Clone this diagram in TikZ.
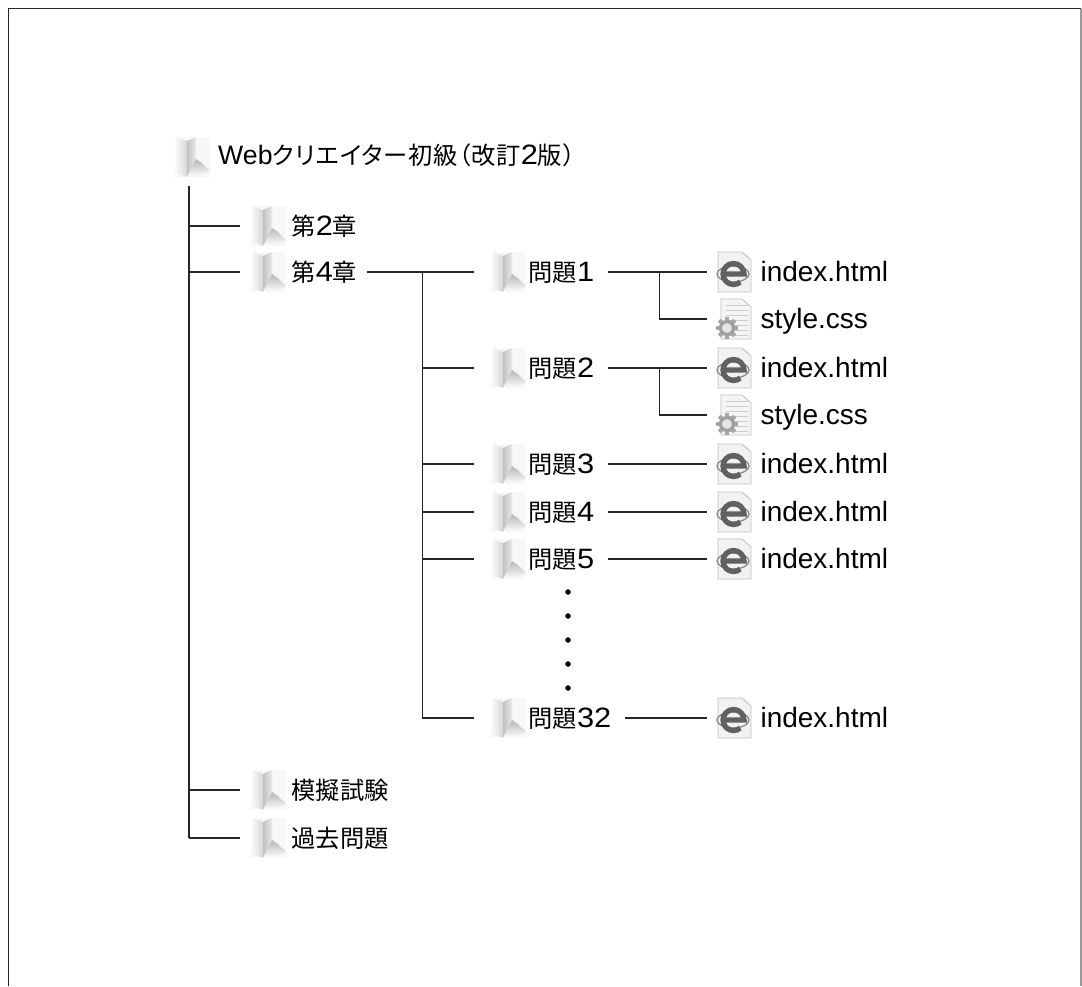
\documentclass[tikz,border=0pt]{standalone}
\usepackage{fontspec}
\setmainfont{Liberation Sans}
\newfontfamily\cjkfont{Noto Sans CJK JP}
\newfontfamily\paltfont[RawFeature=+palt,LetterSpace=3.5]{Noto Sans CJK JP}
\newfontfamily\widefont[FakeStretch=1.1]{Liberation Sans}
\newcommand{\widedigit}[1]{{\widefont\fontsize{21pt}{24pt}\selectfont #1}}
\usetikzlibrary{positioning, calc}

\begin{document}
\begin{tikzpicture}[
    x=0.75pt, y=-0.75pt,
    on grid,
    folder/.style={
      minimum width=27.75pt, minimum height=30pt, inner sep=0pt,
      path picture={
        \fill [black!3] (-18,-20) rectangle (18,20);
        \shade [left color=white, right color=black!16] (-18,-20) -- (-5,-16) -- (-5,20) -- (-12,17) -- (-18,11) -- cycle;
        \shade [left color=black!24, right color=black!8] (-5,-16) -- (4,-20) -- (4,7) -- (-5,20) -- cycle;
        \shade [top color=black!28, bottom color=white] (4,2) -- (10,6) -- (18,14) -- (10,17) -- (-5,20) -- cycle;
      }
    },
    htmlfile/.style={
      minimum width=27pt, minimum height=31.5pt, inner sep=0pt,
      path picture={
        \filldraw [fill=black!5, draw=black!25, line width=0.6pt] (-16,-20) -- (8,-20) -- (17,-12) -- (17,20) -- (-16,20) -- cycle;
        \draw [black!45, line width=1pt, rotate around={-32:(-1,2)}] (-1,2) ellipse (16 and 8);
        \draw [black!62, line width=4pt] (-10,2) -- (10,2) arc (0:-310:10.5 and 10.5);
      }
    },
    cssfile/.style={
      minimum width=27pt, minimum height=31.5pt, inner sep=0pt,
      path picture={
        \filldraw [fill=black!4, draw=black!25, line width=0.6pt] (-13,-20) -- (8,-20) -- (17,-12) -- (17,20) -- (-13,20) -- cycle;
        \foreach \r in {-14,-9,...,16}
          \draw [black!20, line width=0.5pt] (-8,\r) -- (14,\r);
        \foreach \a in {0,45,...,315}
          \draw [black!35, line width=3pt] (-7,9) ++(\a:6) -- ++(\a:5);
        \filldraw [fill=black!10, draw=black!38, line width=2.4pt] (-7,9) circle (6.5);
      }
    },
    nametag/.style={
      anchor=west, inner xsep=3.4pt, inner ysep=0pt, text height=17pt, text depth=3.5pt,
      font=\cjkfont\fontsize{18.2pt}{22pt}\selectfont
    },
    filetag/.style={
      anchor=west, inner xsep=6pt, inner ysep=0pt, text height=17pt, text depth=3.5pt,
      font=\fontsize{21pt}{24pt}\selectfont
    },
    dot/.style={
      circle, fill=black, inner sep=0pt, minimum size=4.2pt
    },
    link/.style={
      line width=0.8pt, black!85
    },
    branch/.style={
      link, shorten >=6.75pt
    },
    tagbranch/.style={
      branch, shorten <=3.4pt
    },
    qbranch/.style={
      link, shorten >=11.25pt
    },
    filebranch/.style={
      branch, shorten <=7pt
    },
  ]
    \useasboundingbox (0,0) rectangle (1082,986);

    % frame
    \draw [line width=1pt, black!85] (8.5,986) -- (8.5,8.5) -- (1081,8.5);
    \draw [line width=1pt, black!40] (1081,8.5) -- (1081,986);

    % root
    \node [folder] (root_folder) at (192,157) {};
    \node [nametag, font=\paltfont\fontsize{18.2pt}{22pt}\selectfont, xshift=2pt, yshift=1.5pt] (root_name) at (root_folder.east) {{\fontspec{Liberation Sans}\fontsize{20pt}{24pt}\selectfont Web}クリエイター初級（改訂\widedigit{2}版）};

    % chapters
    \node [folder, below right=51.75pt and 57pt of root_folder] (ch2_folder) {};
    \node [folder, below=34.5pt of ch2_folder] (ch4_folder) {};
    \node [folder, below=388.5pt of ch4_folder] (mock_folder) {};
    \node [folder, below=36pt of mock_folder] (past_folder) {};
    \node [nametag] (ch2_name) at (ch2_folder.east) {第\widedigit{2}章};
    \node [nametag] (ch4_name) at (ch4_folder.east) {第\widedigit{4}章};
    \node [nametag] (mock_name) at (mock_folder.east) {模擬試験};
    \node [nametag] (past_name) at (past_folder.east) {過去問題};

    % questions
    \node [folder, right=180pt of ch4_folder] (q1_folder) {};
    \node [folder, below=72pt of q1_folder] (q2_folder) {};
    \node [folder, below=72pt of q2_folder] (q3_folder) {};
    \node [folder, below=36pt of q3_folder] (q4_folder) {};
    \node [folder, below=35.25pt of q4_folder] (q5_folder) {};
    \node [folder, below=119.25pt of q5_folder] (q32_folder) {};
    \foreach \q in {1,2,3,4,5,32}
      \node [nametag, xshift=-2.25pt] (q\q_name) at (q\q_folder.east) {問題\widedigit{\q}};

    % dots
    \node [dot, below right=24.75pt and 45pt of q5_folder] (dot_1) {};
    \foreach \n [remember=\n as \p (initially 1)] in {2,...,5}
      \node [dot, below=18pt of dot_\p] (dot_\n) {};

    % files
    \foreach \q in {1,2,3,4,5,32} {
      \node [htmlfile, right=169.5pt of q\q_folder] (index\q_file) {};
      \node [filetag] (index\q_name) at (index\q_file.east) {index.html};
    }
    \node [cssfile, below=35.25pt of index1_file] (style1_file) {};
    \node [cssfile, below=35.25pt of index2_file] (style2_file) {};
    \node [filetag] (style1_name) at (style1_file.east) {style.css};
    \node [filetag] (style2_name) at (style2_file.east) {style.css};

    % trunks
    \coordinate [below left=21.75pt and 2.25pt of root_folder] (root_trunk);
    \coordinate [right=45pt of ch4_name.east] (ch4_trunk);
    \coordinate [right=45.25pt of q1_name.east] (q1_trunk);
    \coordinate [right=45.25pt of q2_name.east] (q2_trunk);
    \draw [link] (root_trunk) -- (root_trunk |- past_folder);
    \draw [link] (ch4_trunk) -- (ch4_trunk |- q32_folder);
    \draw [link] (q1_trunk) -- (q1_trunk |- style1_file);
    \draw [link] (q2_trunk) -- (q2_trunk |- style2_file);

    % branches
    \foreach \c in {ch2,ch4,mock,past}
      \draw [branch] (root_trunk |- \c_folder) -- (\c_folder.west);
    \draw [tagbranch, shorten >=11.25pt] (ch4_name.east) -- (q1_folder.west);
    \foreach \q in {2,3,4,5,32}
      \draw [qbranch] (ch4_trunk |- q\q_folder) -- (q\q_folder.west);
    \foreach \q in {1,2,3,4,5,32}
      \draw [filebranch] (q\q_name.east) -- (index\q_file.west);
    \draw [branch] (q1_trunk |- style1_file) -- (style1_file.west);
    \draw [branch] (q2_trunk |- style2_file) -- (style2_file.west);
\end{tikzpicture}
\end{document}
